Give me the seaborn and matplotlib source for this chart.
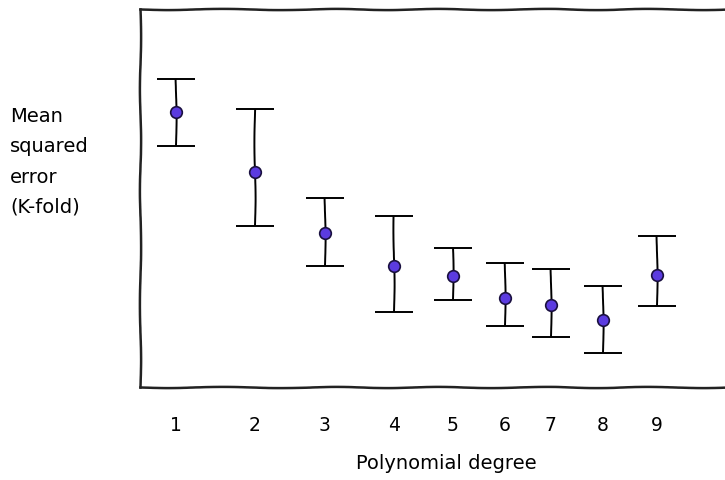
import matplotlib
matplotlib.use("Agg")
import matplotlib.pyplot as plt
import seaborn as sns
import pandas as pd
import numpy as np

degrees = [1, 2, 3, 4, 5, 6, 7, 8, 9]
x_positions = [0.51, 1.64, 2.64, 3.63, 4.47, 5.21, 5.87, 6.61, 7.39]
mse_mean = [72.8, 56.9, 40.7, 32.0, 29.4, 23.5, 21.7, 17.7, 29.6]
mse_upper = [81.5, 73.5, 50.0, 45.2, 36.8, 32.8, 31.2, 26.7, 39.9]
mse_lower = [63.8, 42.6, 32.0, 19.8, 23.0, 16.1, 13.2, 9.0, 21.4]
tick_labels = [str(d) for d in degrees]

df = pd.DataFrame({"x": x_positions, "mse": mse_mean,
                   "lo": mse_lower, "hi": mse_upper})

sns.set_theme(style="white")
with plt.xkcd(scale=0.6, length=120, randomness=2):
    plt.rcParams['font.family'] = ['DejaVu Sans']
    plt.rcParams['path.effects'] = []
    plt.rcParams['text.color'] = 'black'
    plt.rcParams['xtick.color'] = 'black'
    plt.rcParams['axes.labelcolor'] = 'black'
    fig = plt.figure(figsize=(7.25, 4.81), dpi=100)
    ax = fig.add_axes([140/725, (481-388)/481, 600/725, 378/481])
    yerr = np.array([df["mse"] - df["lo"], df["hi"] - df["mse"]])
    ax.errorbar(df["x"], df["mse"], yerr=yerr, fmt="none", ecolor="black",
                elinewidth=1.4, capsize=14, capthick=1.4, zorder=2)
    sns.scatterplot(data=df, x="x", y="mse", ax=ax, s=70, color="#5b3be0",
                    edgecolor="#1a1040", linewidth=1.2, zorder=3)
    ax.set_xlim(0, 600/70)
    ax.set_ylim(0, 100)
    ax.set_xticks(x_positions)
    ax.set_xticklabels(tick_labels, fontsize=13.5)
    ax.set_yticks([])
    ax.tick_params(axis="x", length=0, pad=20, labelcolor="black")
    ax.set_xlabel("Polynomial degree", fontsize=14, labelpad=16, color="black")
    ax.xaxis.set_label_coords(0.51, -0.175)
    ax.set_ylabel("")
    for s in ax.spines.values():
        s.set_color("#222222")
        s.set_linewidth(1.8)
    fig.text(10/725, 1 - 162/481, "Mean\nsquared\nerror\n(K-fold)",
             ha="left", va="center", fontsize=14, linespacing=1.75,
             color="black")
    fig.savefig("out.png", dpi=100)
